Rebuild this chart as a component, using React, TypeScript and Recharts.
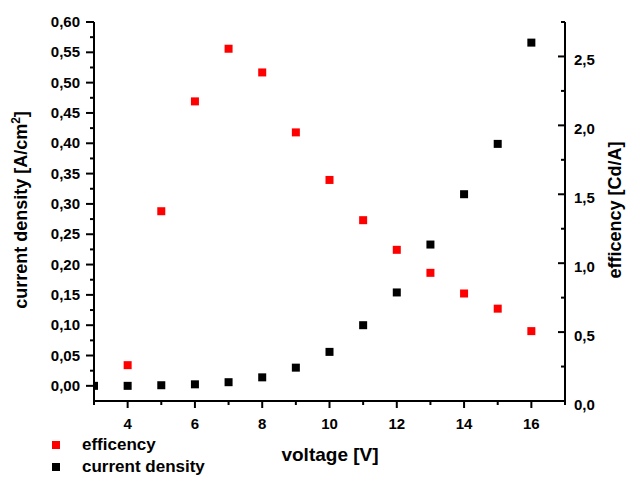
import React from 'react';
import { ScatterChart, Scatter, XAxis, YAxis } from 'recharts';

const voltage = [3, 4, 5, 6, 7, 8, 9, 10, 11, 12, 13, 14, 15, 16];
const currentDensity = [0.0, 0.0, 0.001, 0.0025, 0.006, 0.014, 0.03, 0.056, 0.1, 0.154, 0.233, 0.316, 0.399, 0.566];
const effVoltage = [4, 5, 6, 7, 8, 9, 10, 11, 12, 13, 14, 15, 16];
const efficiency = [0.26, 1.377, 2.174, 2.556, 2.384, 1.949, 1.604, 1.312, 1.097, 0.93, 0.78, 0.67, 0.507];

const xTicks = [3, 4, 5, 6, 7, 8, 9, 10, 11, 12, 13, 14, 15, 16, 17];
const cdTicks = [0, 0.025, 0.05, 0.075, 0.1, 0.125, 0.15, 0.175, 0.2, 0.225, 0.25, 0.275, 0.3, 0.325, 0.35, 0.375, 0.4, 0.425, 0.45, 0.475, 0.5, 0.525, 0.55, 0.575, 0.6];
const effTicks = [0, 0.25, 0.5, 0.75, 1, 1.25, 1.5, 1.75, 2, 2.25, 2.5, 2.75];

const legendItems = [
  { name: 'efficency', color: '#ff0000' },
  { name: 'current density', color: '#000000' },
];

const cdData = voltage.map((v, i) => ({ v, cd: currentDensity[i] }));
const effData = effVoltage.map((v, i) => ({ v, eff: efficiency[i] }));

const FONT = '"Liberation Sans", Arial, sans-serif';

const Square = (color: string) => (props: any) => {
  const { cx, cy } = props;
  if (cx == null || cy == null) return <g />;
  return <rect x={cx - 4} y={cy - 4} width={8} height={8} fill={color} />;
};

const XTick = (props: any) => {
  const { x, y, payload } = props;
  const val = payload.value;
  const major = val % 2 === 0;
  return (
    <g>
      <line x1={x} x2={x} y1={y} y2={y + (major ? 7 : 4)} stroke="#000" strokeWidth={2} />
      {major && (
        <text x={x} y={y + 28} textAnchor="middle" fontSize={15} fontWeight="bold" fontFamily={FONT} fill="#000">
          {val}
        </text>
      )}
    </g>
  );
};

const LeftTick = (props: any) => {
  const { x, y, payload } = props;
  const val = payload.value;
  const major = Math.round(val * 40) % 2 === 0;
  return (
    <g>
      <line x1={x - (major ? 8 : 4)} x2={x} y1={y} y2={y} stroke="#000" strokeWidth={2} />
      {major && (
        <text x={x - 14} y={y + 5} textAnchor="end" fontSize={15} fontWeight="bold" fontFamily={FONT} fill="#000">
          {val.toFixed(2).replace('.', ',')}
        </text>
      )}
    </g>
  );
};

const RightTick = (props: any) => {
  const { x, y, payload } = props;
  const val = payload.value;
  const major = Math.round(val * 4) % 2 === 0;
  return (
    <g>
      <line x1={x - (major ? 7 : 4)} x2={x} y1={y} y2={y} stroke="#000" strokeWidth={2} />
      {major && (
        <text x={x + 9} y={y + 9} textAnchor="start" fontSize={15} fontWeight="bold" fontFamily={FONT} fill="#000">
          {val.toFixed(1).replace('.', ',')}
        </text>
      )}
    </g>
  );
};

export default function App() {
  return (
    <div style={{ position: 'absolute', left: 0, top: 0, width: 635, height: 477, background: '#fff' }}>
      <ScatterChart width={635} height={477} margin={{ top: 22, right: 0, bottom: 0, left: 0 }}>
        <XAxis
          dataKey="v"
          type="number"
          domain={[3, 17]}
          ticks={xTicks}
          height={76}
          tickSize={0}
          tickMargin={0}
          tickLine={false}
          axisLine={{ stroke: '#000', strokeWidth: 2 }}
          tick={<XTick />}
          interval={0}
          allowDataOverflow
        />
        <YAxis
          yAxisId="cd"
          dataKey="cd"
          type="number"
          domain={[-0.025, 0.6]}
          ticks={cdTicks}
          width={94}
          tickSize={0}
          tickMargin={0}
          tickLine={false}
          axisLine={{ stroke: '#000', strokeWidth: 2 }}
          tick={<LeftTick />}
          interval={0}
          allowDataOverflow
        />
        <YAxis
          yAxisId="eff"
          dataKey="eff"
          orientation="right"
          type="number"
          domain={[0, 2.75]}
          ticks={effTicks}
          width={70}
          tickSize={0}
          tickMargin={0}
          tickLine={false}
          axisLine={{ stroke: '#000', strokeWidth: 2 }}
          tick={<RightTick />}
          interval={0}
          allowDataOverflow
        />
        <Scatter name="efficency" yAxisId="eff" data={effData} dataKey="eff" shape={Square('#ff0000')} isAnimationActive={false} />
        <Scatter name="current density" yAxisId="cd" data={cdData} dataKey="cd" shape={Square('#000')} isAnimationActive={false} />
        <text x={330} y={461} textAnchor="middle" fontSize={19} fontWeight="bold" fontFamily={FONT} fill="#000">
          voltage [V]
        </text>
        <text
          transform="translate(27, 210) rotate(-90)"
          textAnchor="middle"
          fontSize={18}
          fontWeight="bold"
          fontFamily={FONT}
          fill="#000"
        >
          current density [A/cm<tspan dy={-7} fontSize={12}>2</tspan><tspan dy={7}>]</tspan>
        </text>
        <text
          transform="translate(621, 210) rotate(-90)"
          textAnchor="middle"
          fontSize={18}
          fontWeight="bold"
          fontFamily={FONT}
          fill="#000"
        >
          efficency [Cd/A]
        </text>
      </ScatterChart>
      <div
        style={{
          position: 'absolute',
          left: 52,
          top: 434,
          fontFamily: FONT,
          fontWeight: 'bold',
          fontSize: 17,
          color: '#000',
          lineHeight: '22px',
        }}
      >
        {legendItems.map(item => (
          <div key={item.name} style={{ display: 'flex', alignItems: 'center' }}>
            <span style={{ display: 'inline-block', width: 8, height: 8, background: item.color, marginRight: 22 }} />
            {item.name}
          </div>
        ))}
      </div>
    </div>
  );
}
